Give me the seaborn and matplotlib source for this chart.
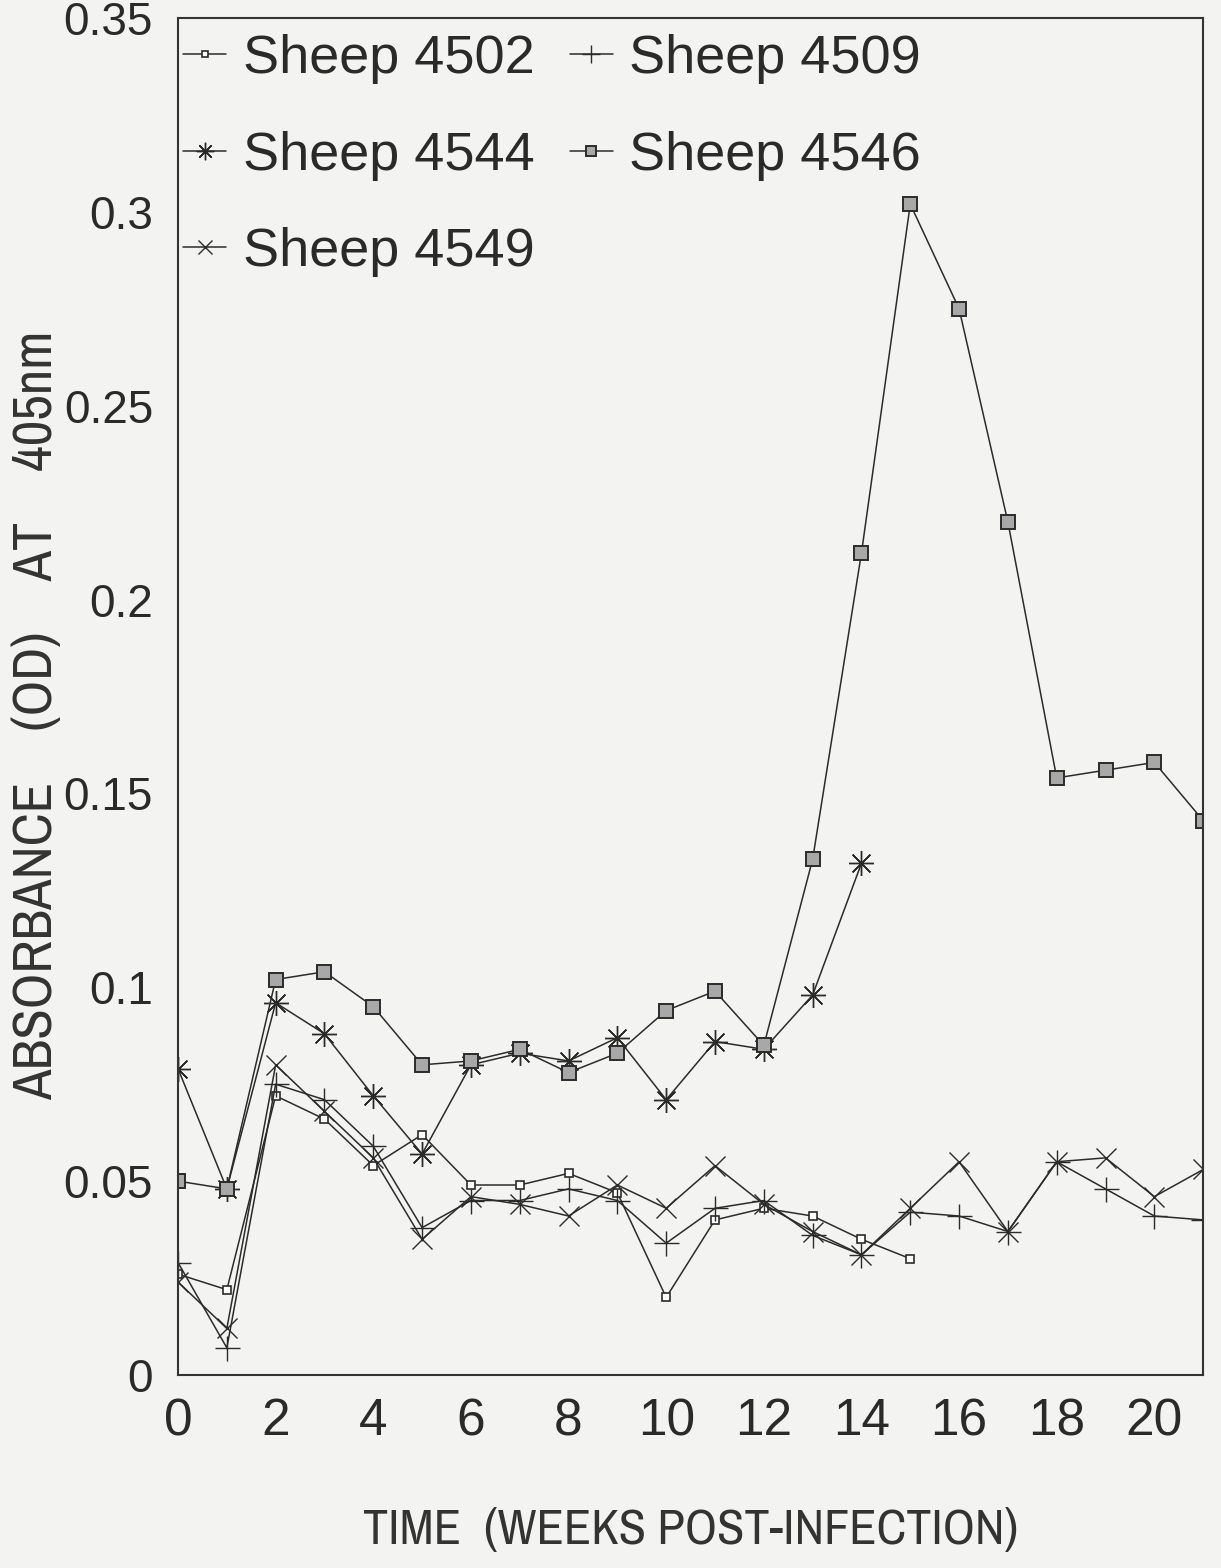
import matplotlib
matplotlib.use("Agg")
import matplotlib.pyplot as plt
import seaborn as sns
from matplotlib import font_manager
from matplotlib.font_manager import FontProperties
from matplotlib.ticker import FuncFormatter

weeks = list(range(22))

sheep_4502 = [0.026, 0.022, 0.072, 0.066, 0.054, 0.062, 0.049, 0.049, 0.052, 0.047,
              0.020, 0.040, 0.043, 0.041, 0.035, 0.030]
sheep_4509 = [0.029, 0.007, 0.075, 0.071, 0.059, 0.038, 0.045, 0.045, 0.048, 0.045,
              0.034, 0.043, 0.045, 0.036, 0.031, 0.042, 0.041, 0.037, 0.055, 0.048,
              0.041, 0.040]
sheep_4544 = [0.079, 0.048, 0.096, 0.088, 0.072, 0.057, 0.080, 0.083, 0.081, 0.087,
              0.071, 0.086, 0.084, 0.098, 0.132]
sheep_4546 = [0.050, 0.048, 0.102, 0.104, 0.095, 0.080, 0.081, 0.084, 0.078, 0.083,
              0.094, 0.099, 0.085, 0.133, 0.212, 0.302, 0.275, 0.220, 0.154, 0.156,
              0.158, 0.143]
sheep_4549 = [0.024, 0.012, 0.080, 0.068, 0.056, 0.035, 0.046, 0.044, 0.041, 0.049,
              0.043, 0.054, 0.044, 0.037, 0.031, 0.043, 0.055, 0.037, 0.055, 0.056,
              0.046, 0.053]

x_ticks = list(range(0, 21, 2))
y_ticks = [0, 0.05, 0.1, 0.15, 0.2, 0.25, 0.3, 0.35]

LINE = "#2b2b2b"
PAPER = "#f3f3f1"


def is_upright(f):
    return f.style == "normal" and f.weight in (400, "normal", "regular", "book")


def narrow_font():
    # the axis titles in the scan are set in a condensed sans
    fonts = [f for f in font_manager.fontManager.ttflist if is_upright(f)]
    for f in fonts:
        if "Narrow" in f.name or "Condensed" in f.name:
            return FontProperties(fname=f.fname)
    for f in fonts:
        if f.stretch in ("condensed", "semi-condensed", "extra-condensed") and "Sans" in f.name:
            return FontProperties(fname=f.fname)
    return FontProperties(family="DejaVu Sans")


sns.set_style("white")
plt.rcParams["font.family"] = ["Liberation Sans", "DejaVu Sans"]

fig = plt.figure(figsize=(12.21, 15.68), dpi=100, facecolor=PAPER)
ax = fig.add_axes([0.1458, 0.1231, 0.8396, 0.8654])
ax.set_facecolor(PAPER)

series = [
    ("Sheep 4502", sheep_4502, dict(marker="s", markersize=6, markerfacecolor="white",
                                    markeredgewidth=1.2)),
    ("Sheep 4544", sheep_4544, dict(marker=(8, 2, 0), markersize=18, markeredgewidth=1.0)),
    ("Sheep 4549", sheep_4549, dict(marker="x", markersize=15, markeredgewidth=1.0)),
    ("Sheep 4509", sheep_4509, dict(marker="+", markersize=18, markeredgewidth=1.0)),
    ("Sheep 4546", sheep_4546, dict(marker="s", markersize=10, markerfacecolor="#a8a8a8",
                                    markeredgewidth=1.4)),
]

for name, values, style in series:
    sns.lineplot(x=weeks[:len(values)], y=values, ax=ax, color=LINE, linewidth=1.1,
                 markeredgecolor=LINE, label=name, **style)

ax.set_xlim(0, 21)
ax.set_ylim(0, 0.35)
ax.set_xticks(x_ticks)
ax.set_yticks(y_ticks)
ax.yaxis.set_major_formatter(FuncFormatter(lambda v, _: f"{v:g}"))
ax.tick_params(axis="x", labelsize=37, pad=16, length=0, colors="#2a2a2a")
ax.tick_params(axis="y", labelsize=33, pad=14, length=4, width=1, colors="#2a2a2a")

for spine in ax.spines.values():
    spine.set_visible(True)
    spine.set_color("#333333")
    spine.set_linewidth(1.5)

title_font = narrow_font()
xlab = ax.set_xlabel("TIME  (WEEKS POST-INFECTION)", fontproperties=title_font,
                     fontsize=34, color="#333333")
ylab = ax.set_ylabel("ABSORBANCE    (OD)    AT    405nm", fontproperties=title_font,
                     fontsize=34, color="#333333")

# fit the axis titles to the length they have in the scan
fig.canvas.draw()
renderer = fig.canvas.get_renderer()
xw = xlab.get_window_extent(renderer).width
yh = ylab.get_window_extent(renderer).height
xlab.set_fontsize(34 * 655 / xw)
ylab.set_fontsize(34 * 770 / yh)
ax.xaxis.set_label_coords(0.5, -0.098)
ax.yaxis.set_label_coords(-0.113, 0.486)

handles, labels = ax.get_legend_handles_labels()
ax.legend(handles, labels, ncol=2, loc="upper left", bbox_to_anchor=(-0.011, 1.0),
          frameon=False, fontsize=39, handlelength=0.8, handletextpad=0.3,
          columnspacing=0.65, labelspacing=0.86, borderaxespad=0.2, borderpad=0.1,
          markerscale=0.7)
for text in ax.get_legend().get_texts():
    text.set_color("#2a2a2a")

fig.savefig("out.png", dpi=100, facecolor=PAPER)
